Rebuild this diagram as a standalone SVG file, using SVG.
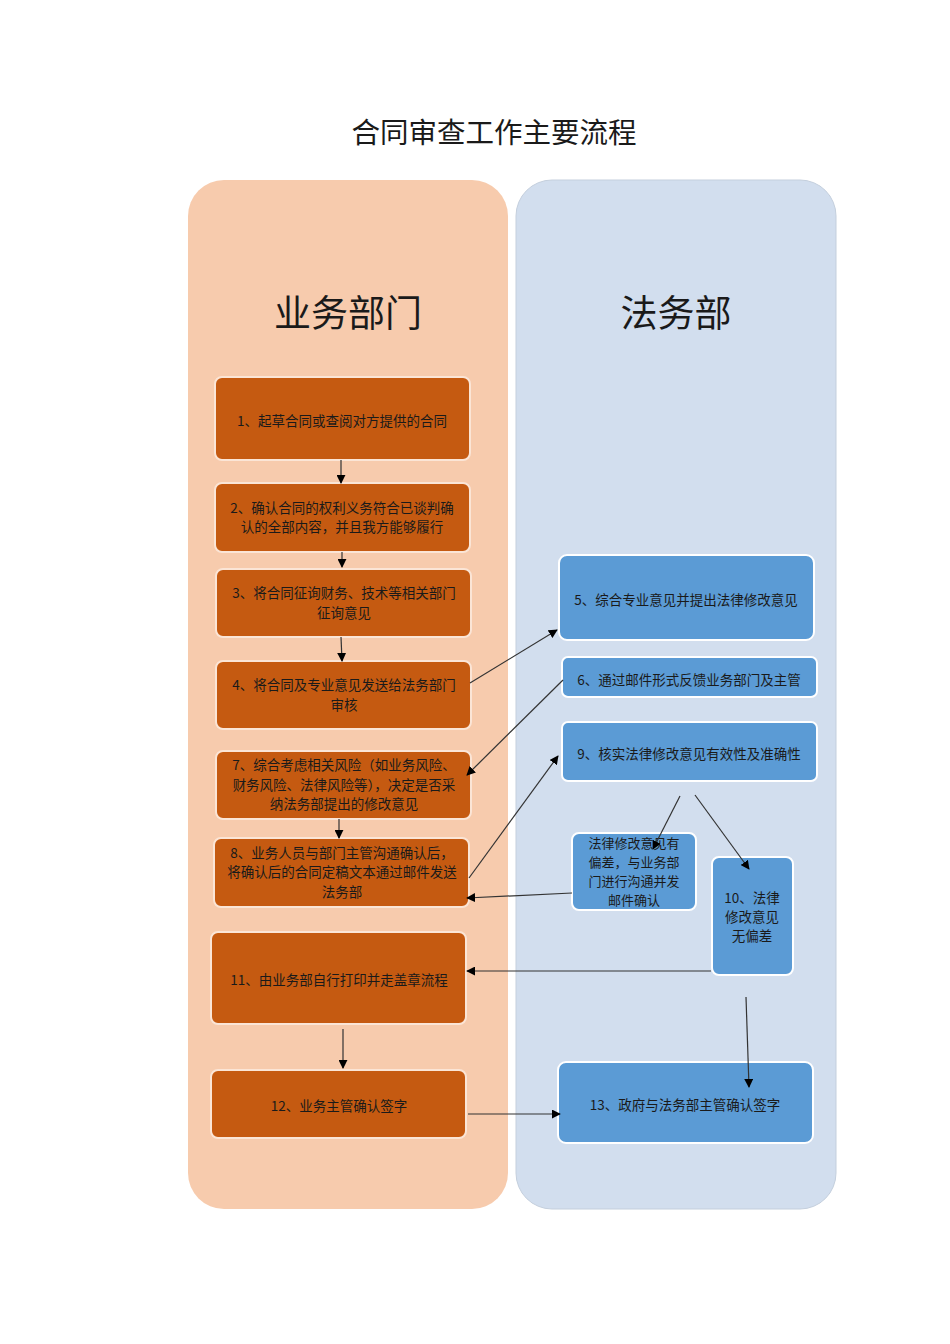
<svg xmlns="http://www.w3.org/2000/svg" width="950" height="1344" viewBox="0 0 950 1344">
<style>
text{font-family:"Noto Sans CJK SC","Noto Sans",sans-serif;fill:#1a1a1a;text-anchor:middle}
.t{font-size:13.5px}
.s{font-size:13px}
.o{fill:#c55a11;stroke:#fbe5d6;stroke-width:2}
.b{fill:#5b9bd5;stroke:#ffffff;stroke-width:2}
.c{stroke:#333;stroke-width:1.2;fill:none;marker-end:url(#ah)}
</style>
<defs>
<marker id="ah" viewBox="0 0 10 10" refX="9" refY="5" markerWidth="9" markerHeight="9" markerUnits="userSpaceOnUse" orient="auto"><path d="M0,0L10,5L0,10z" fill="#000"/></marker>
</defs>
<rect width="950" height="1344" fill="#fff"/>
<text x="494" y="143" style="font-size:28.5px">合同审查工作主要流程</text>
<g id="lane-business"><rect x="188" y="180" width="320" height="1029" rx="36" fill="#f7cbad"/><text x="348" y="327" style="font-size:37px">业务部门</text></g>
<g id="lane-legal"><rect x="516" y="180" width="320" height="1029" rx="36" fill="#d2deee" stroke="#c4cfdd" stroke-width="1"/><text x="676" y="327" style="font-size:37px">法务部</text></g>
<g id="n1"><rect class="o" x="215" y="377" width="255" height="83" rx="7"/><text class="t" x="342" y="426">1、起草合同或查阅对方提供的合同</text></g>
<g id="n2"><rect class="o" x="215" y="483" width="255" height="69" rx="7"/><text class="t" x="342" y="513">2、确认合同的权利义务符合已谈判确</text><text class="t" x="342" y="532">认的全部内容，并且我方能够履行</text></g>
<g id="n3"><rect class="o" x="216" y="569" width="255" height="68" rx="7"/><text class="t" x="344" y="598">3、将合同征询财务、技术等相关部门</text><text class="t" x="344" y="618">征询意见</text></g>
<g id="n4"><rect class="o" x="216" y="661" width="255" height="68" rx="7"/><text class="t" x="344" y="690">4、将合同及专业意见发送给法务部门</text><text class="t" x="344" y="710">审核</text></g>
<g id="n7"><rect class="o" x="216" y="751" width="255" height="68" rx="7"/><text class="t" x="344" y="770">7、综合考虑相关风险（如业务风险、</text><text class="t" x="344" y="790">财务风险、法律风险等），决定是否采</text><text class="t" x="344" y="809">纳法务部提出的修改意见</text></g>
<g id="n8"><rect class="o" x="214" y="838" width="255" height="69" rx="7"/><text class="t" x="342" y="858">8、业务人员与部门主管沟通确认后，</text><text class="t" x="342" y="877">将确认后的合同定稿文本通过邮件发送</text><text class="t" x="342" y="897">法务部</text></g>
<g id="n11"><rect class="o" x="211" y="932" width="255" height="92" rx="7"/><text class="t" x="339" y="985">11、由业务部自行打印并走盖章流程</text></g>
<g id="n12"><rect class="o" x="211" y="1070" width="255" height="68" rx="7"/><text class="t" x="339" y="1111">12、业务主管确认签字</text></g>
<g id="n5"><rect class="b" x="559" y="555" width="255" height="85" rx="8"/><text class="t" x="686" y="605">5、综合专业意见并提出法律修改意见</text></g>
<g id="n6"><rect class="b" x="562" y="657" width="255" height="40" rx="6"/><text class="t" x="689" y="685">6、通过邮件形式反馈业务部门及主管</text></g>
<g id="n9"><rect class="b" x="562" y="722" width="255" height="59" rx="6"/><text class="t" x="689" y="759">9、核实法律修改意见有效性及准确性</text></g>
<g id="n-dev"><rect class="b" x="572" y="833" width="124" height="77" rx="7"/><text class="s" x="634" y="848">法律修改意见有</text><text class="s" x="634" y="867">偏差，与业务部</text><text class="s" x="634" y="886">门进行沟通并发</text><text class="s" x="634" y="905">邮件确认</text></g>
<g id="n10"><rect class="b" x="712" y="857" width="81" height="118" rx="7"/><text class="t" x="752" y="903">10、法律</text><text class="t" x="752" y="922">修改意见</text><text class="t" x="752" y="941">无偏差</text></g>
<g id="n13"><rect class="b" x="558" y="1062" width="255" height="81" rx="8"/><text class="t" x="685" y="1110">13、政府与法务部主管确认签字</text></g>
<g id="connectors">
<line class="c" x1="341" y1="460" x2="341" y2="483"/>
<line class="c" x1="342" y1="552" x2="342" y2="567"/>
<line class="c" x1="341" y1="637" x2="342" y2="661"/>
<line class="c" x1="470" y1="683" x2="557" y2="630"/>
<line class="c" x1="563" y1="680" x2="467" y2="775"/>
<line class="c" x1="339" y1="819" x2="339" y2="838"/>
<line class="c" x1="469" y1="878" x2="558" y2="756"/>
<line class="c" x1="680" y1="796" x2="653" y2="849"/>
<line class="c" x1="695" y1="795" x2="749" y2="869"/>
<line class="c" x1="572" y1="893" x2="467" y2="898"/>
<line class="c" x1="711" y1="971" x2="467" y2="971"/>
<line class="c" x1="746" y1="997" x2="749" y2="1087"/>
<line class="c" x1="343" y1="1029" x2="343" y2="1068"/>
<line class="c" x1="468" y1="1114" x2="560" y2="1114"/>
</g>
</svg>
